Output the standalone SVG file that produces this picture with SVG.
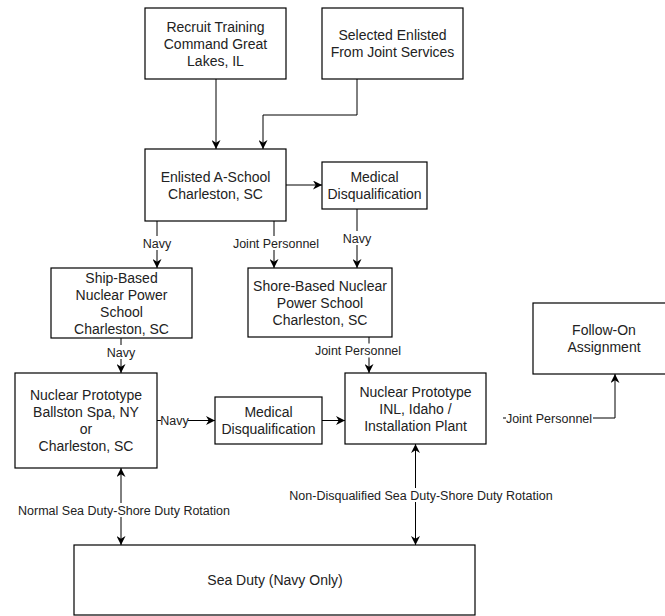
<svg xmlns="http://www.w3.org/2000/svg" width="665" height="616" viewBox="0 0 665 616">
<style>
.box{fill:#fff;stroke:#000;stroke-width:1.2}
.t{font-family:"Liberation Sans",Arial,sans-serif;font-size:14px;fill:#222;text-anchor:middle}
.l{font-family:"Liberation Sans",Arial,sans-serif;font-size:12.5px;fill:#222;text-anchor:middle}
.e{fill:none;stroke:#000;stroke-width:1}
.bg{fill:#fff}
</style>
<defs>
<marker id="a" viewBox="0 0 10 10" refX="10" refY="5" markerWidth="9" markerHeight="9" markerUnits="userSpaceOnUse" orient="auto-start-reverse">
<path d="M0,0 L10,5 L0,10 L3,5 z" fill="#000"/>
</marker>
</defs>
<rect width="665" height="616" fill="#fff"/>
<g id="connectors">
<path class="e" d="M216 79 V149" marker-end="url(#a)"/>
<path class="e" d="M357 79 V115 H263 V149" marker-end="url(#a)"/>
<path class="e" d="M286 185 H322" marker-end="url(#a)"/>
<path class="e" d="M157 221 V268" marker-end="url(#a)"/>
<path class="e" d="M274 221 V268" marker-end="url(#a)"/>
<path class="e" d="M357 209 V268" marker-end="url(#a)"/>
<path class="e" d="M121 338 V373" marker-end="url(#a)"/>
<path class="e" d="M369 337 V373" marker-end="url(#a)"/>
<path class="e" d="M157 420.5 H215" marker-end="url(#a)"/>
<path class="e" d="M322 420.5 H345" marker-end="url(#a)"/>
<path class="e" d="M503 418 H615 V374" marker-end="url(#a)"/>
<path class="e" d="M121 468 V545" marker-start="url(#a)" marker-end="url(#a)"/>
<path class="e" d="M415.5 444 V545" marker-start="url(#a)" marker-end="url(#a)"/>
<rect class="bg" x="143" y="236" width="28" height="14"/>
<text class="l" x="157" y="247.5">Navy</text>
<rect class="bg" x="231" y="236" width="90" height="14"/>
<text class="l" x="276" y="247.5">Joint Personnel</text>
<rect class="bg" x="343" y="231" width="28" height="14"/>
<text class="l" x="357" y="242.5">Navy</text>
<rect class="bg" x="107" y="345" width="28" height="14"/>
<text class="l" x="121" y="356.5">Navy</text>
<rect class="bg" x="313" y="343.5" width="90" height="14"/>
<text class="l" x="358" y="355">Joint Personnel</text>
<rect class="bg" x="161" y="413.5" width="27" height="14"/>
<text class="l" x="174.5" y="425">Navy</text>
<rect class="bg" x="506" y="411" width="87" height="14"/>
<text class="l" x="549" y="422.5">Joint Personnel</text>
<rect class="bg" x="284" y="488" width="274" height="14"/>
<text class="l" x="421" y="499.5">Non-Disqualified Sea Duty-Shore Duty Rotation</text>
<rect class="bg" x="13" y="503" width="222" height="14"/>
<text class="l" x="124" y="514.5">Normal Sea Duty-Shore Duty Rotation</text>
</g>
<g id="recruit">
<rect class="box" x="145" y="8" width="141" height="71"/>
<text class="t" x="215.5" y="31.5">Recruit Training</text>
<text class="t" x="215.5" y="48.5">Command Great</text>
<text class="t" x="215.5" y="65.5">Lakes, IL</text>
</g>
<g id="selected">
<rect class="box" x="322" y="8" width="141" height="71"/>
<text class="t" x="392.5" y="40">Selected Enlisted</text>
<text class="t" x="392.5" y="57">From Joint Services</text>
</g>
<g id="aschool">
<rect class="box" x="145" y="149" width="141" height="72"/>
<text class="t" x="215.5" y="181.5">Enlisted A-School</text>
<text class="t" x="215.5" y="198.5">Charleston, SC</text>
</g>
<g id="meddq1">
<rect class="box" x="322" y="162" width="105" height="47"/>
<text class="t" x="374.5" y="182">Medical</text>
<text class="t" x="374.5" y="199">Disqualification</text>
</g>
<g id="shipbased">
<rect class="box" x="51" y="268" width="141" height="70"/>
<text class="t" x="121.5" y="282.5">Ship-Based</text>
<text class="t" x="121.5" y="299.5">Nuclear Power</text>
<text class="t" x="121.5" y="316.5">School</text>
<text class="t" x="121.5" y="333.5">Charleston, SC</text>
</g>
<g id="shorebased">
<rect class="box" x="248" y="268" width="144" height="69"/>
<text class="t" x="320" y="290.5">Shore-Based Nuclear</text>
<text class="t" x="320" y="307.5">Power School</text>
<text class="t" x="320" y="324.5">Charleston, SC</text>
</g>
<g id="ballston">
<rect class="box" x="15" y="373" width="142" height="95"/>
<text class="t" x="86" y="400">Nuclear Prototype</text>
<text class="t" x="86" y="417">Ballston Spa, NY</text>
<text class="t" x="86" y="434">or</text>
<text class="t" x="86" y="451">Charleston, SC</text>
</g>
<g id="meddq2">
<rect class="box" x="215" y="397" width="107" height="47"/>
<text class="t" x="268.5" y="417">Medical</text>
<text class="t" x="268.5" y="434">Disqualification</text>
</g>
<g id="inl">
<rect class="box" x="345" y="373" width="141" height="71"/>
<text class="t" x="415.5" y="397">Nuclear Prototype</text>
<text class="t" x="415.5" y="414">INL, Idaho /</text>
<text class="t" x="415.5" y="431">Installation Plant</text>
</g>
<g id="followon">
<rect class="box" x="533" y="303" width="142" height="71"/>
<text class="t" x="604" y="335">Follow-On</text>
<text class="t" x="604" y="352">Assignment</text>
</g>
<g id="seaduty">
<rect class="box" x="74" y="545" width="401" height="70"/>
<text class="t" x="275" y="585">Sea Duty (Navy Only)</text>
</g>
</svg>
